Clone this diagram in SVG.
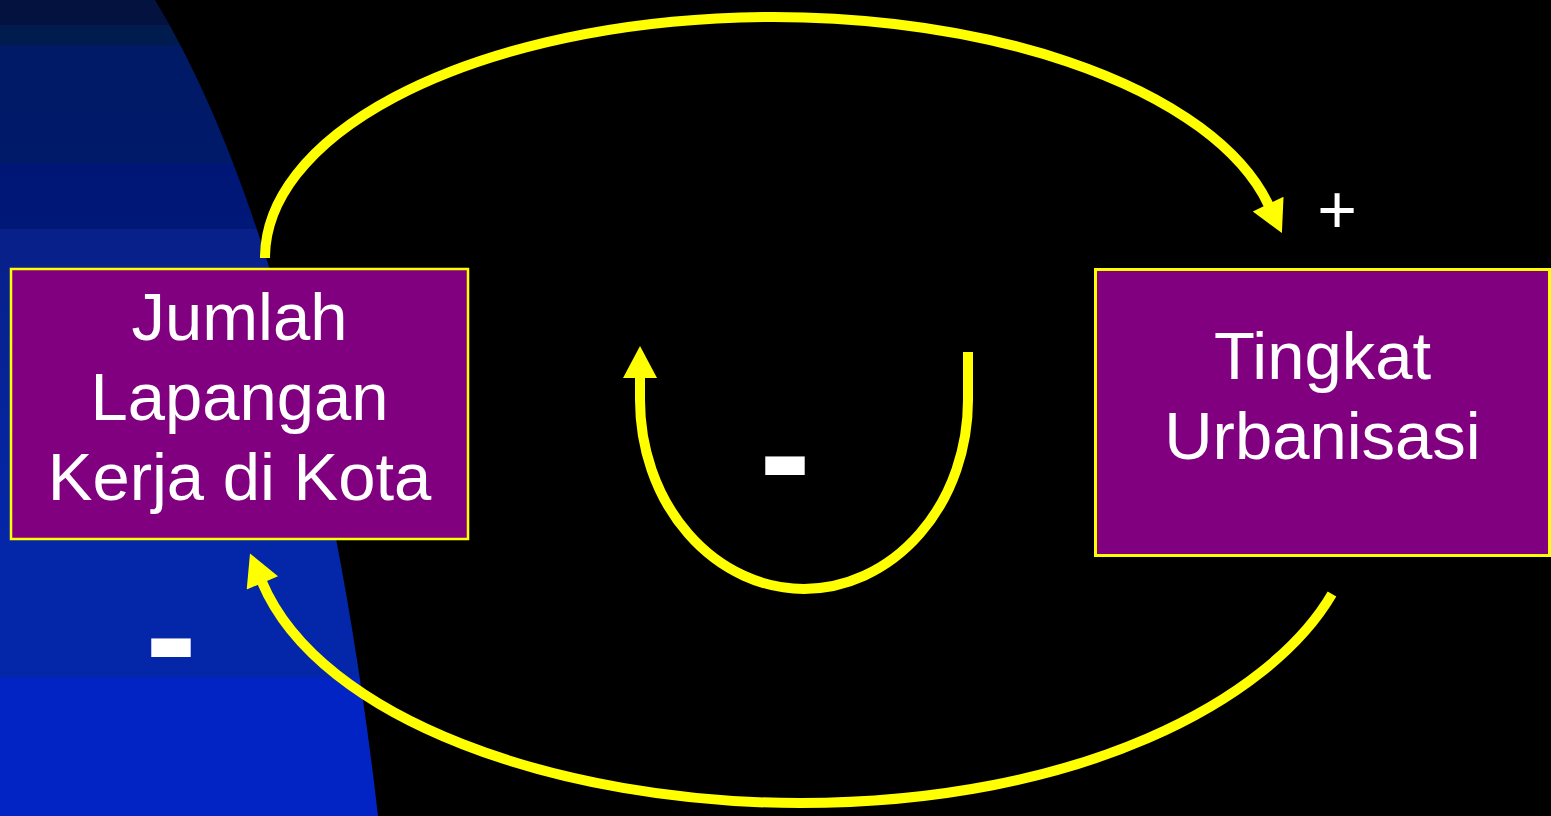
<svg xmlns="http://www.w3.org/2000/svg" width="1551" height="816" viewBox="0 0 1551 816">
  <style>
    .box { fill: #800080; stroke: #ffff00; }
    .lbl { font-family: "Liberation Sans", Arial, sans-serif; font-size: 67px; fill: #ffffff; text-anchor: middle; }
    .sign { font-family: "Liberation Sans", Arial, sans-serif; fill: #ffffff; text-anchor: middle; }
    .link { fill: none; stroke: #ffff00; stroke-width: 10; }
  </style>
  <defs>
    <linearGradient id="bluebg" gradientUnits="userSpaceOnUse" x1="0" y1="0" x2="0" y2="816">
      <stop offset="0" stop-color="#04123f"/>
      <stop offset="0.03" stop-color="#04123f"/>
      <stop offset="0.031" stop-color="#001c4e"/>
      <stop offset="0.055" stop-color="#001c4e"/>
      <stop offset="0.056" stop-color="#001a66"/>
      <stop offset="0.2" stop-color="#001a6a"/>
      <stop offset="0.201" stop-color="#001676"/>
      <stop offset="0.28" stop-color="#001878"/>
      <stop offset="0.281" stop-color="#082088"/>
      <stop offset="0.66" stop-color="#0426a8"/>
      <stop offset="0.83" stop-color="#0426a8"/>
      <stop offset="0.831" stop-color="#0224c4"/>
      <stop offset="1" stop-color="#0224c4"/>
    </linearGradient>
    <marker id="arrow" markerUnits="userSpaceOnUse" markerWidth="34" markerHeight="34" viewBox="0 0 32 34" refX="1" refY="17" orient="auto">
      <path d="M0,0 L32,17 L0,34 Z" fill="#ffff00"/>
    </marker>
  </defs>

  <rect x="0" y="0" width="1551" height="816" fill="#000000"/>
  <path d="M0,0 H155 C240,140 330,400 378,816 H0 Z" fill="url(#bluebg)"/>

  <g id="connectors">
    <path class="link" d="M265,258 A508,241 0 0 1 1268.6,205" marker-end="url(#arrow)"/>
    <path class="link" d="M1332,594 C1270,700 1080,803 800,803 C560,803 320,720 262,582" marker-end="url(#arrow)"/>
    <path class="link" d="M968,352 L968,400 A164,189 0 0 1 640,400 L640,377" marker-end="url(#arrow)"/>
  </g>

  <g id="node-jumlah">
    <rect class="box" x="11" y="269" width="457" height="270" stroke-width="2.5"/>
    <text class="lbl" x="239.5" y="340">Jumlah</text>
    <text class="lbl" x="239.5" y="420">Lapangan</text>
    <text class="lbl" x="239.5" y="500">Kerja di Kota</text>
  </g>

  <g id="node-urbanisasi">
    <rect class="box" x="1095.5" y="269.5" width="454" height="286" stroke-width="3"/>
    <text class="lbl" x="1322.5" y="379">Tingkat</text>
    <text class="lbl" x="1322.5" y="459">Urbanisasi</text>
  </g>

  <g id="polarity">
    <text class="sign" x="1337" y="233" font-size="68">+</text>
    <text class="sign" x="785" y="506" font-size="155" font-weight="bold">-</text>
    <text class="sign" x="171" y="688" font-size="155" font-weight="bold">-</text>
  </g>
</svg>
